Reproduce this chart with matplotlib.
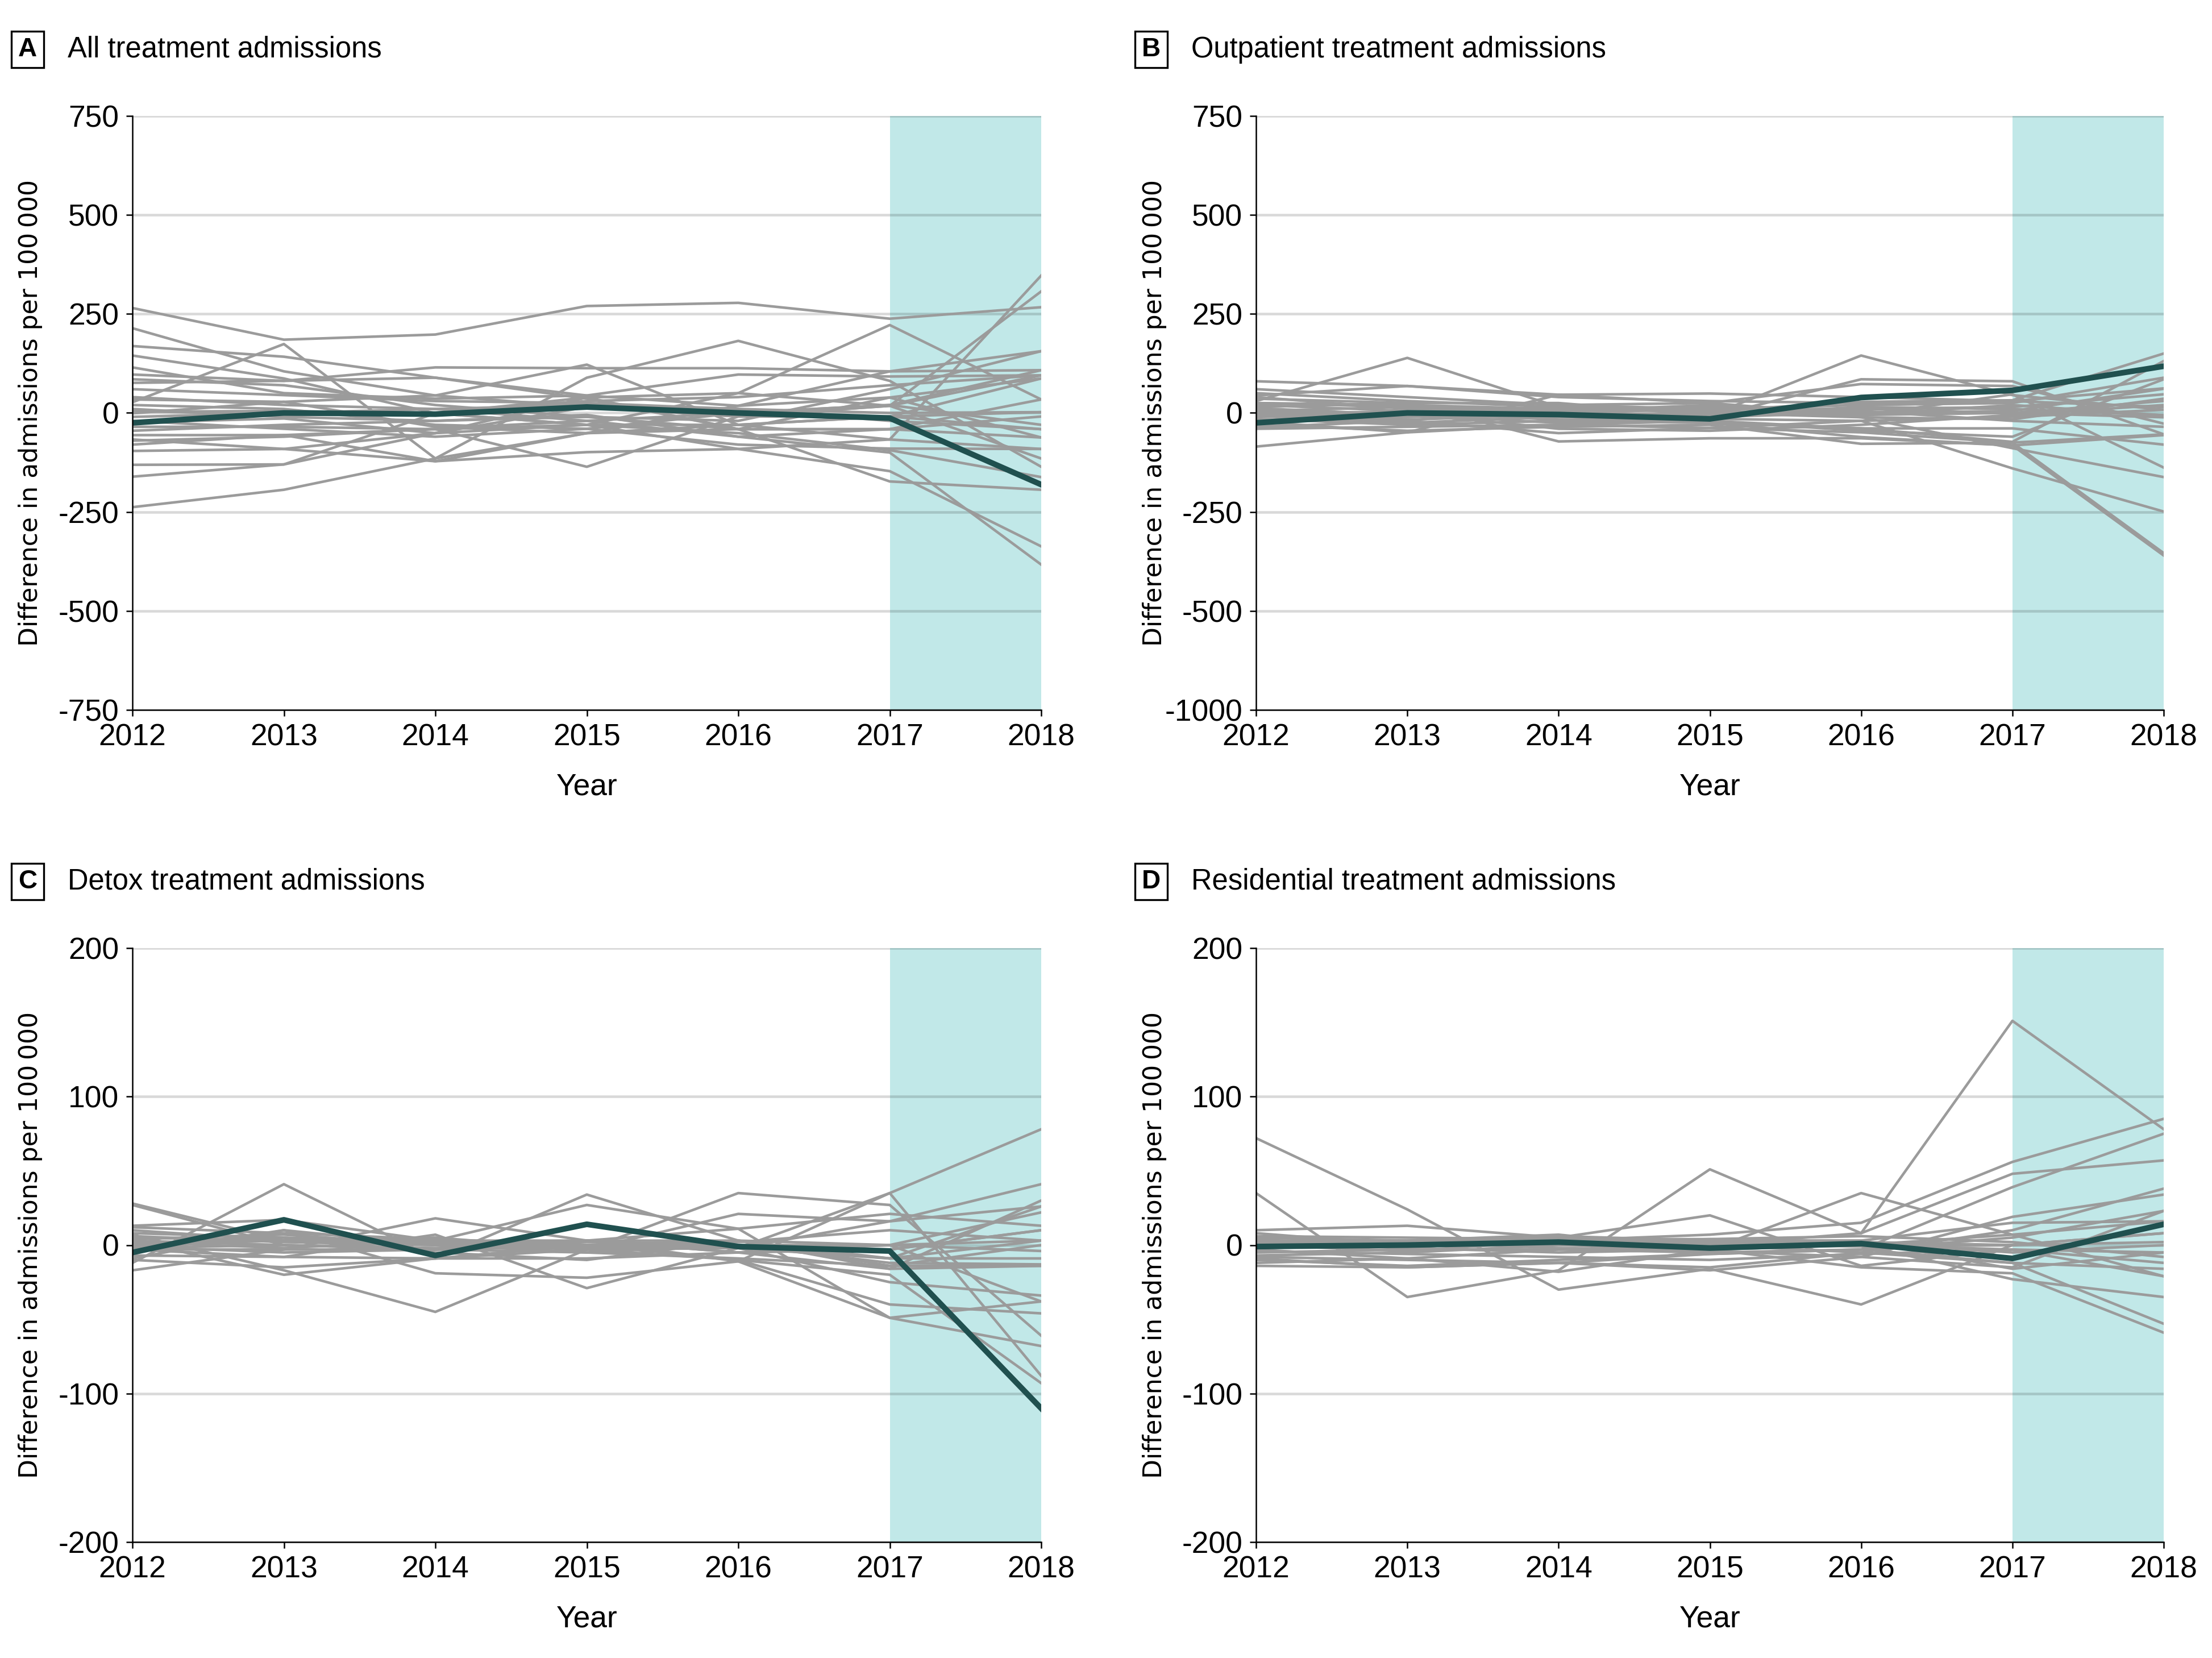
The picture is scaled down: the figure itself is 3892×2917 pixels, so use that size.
import matplotlib
matplotlib.use("Agg")
import matplotlib.pyplot as plt
from matplotlib.patches import Rectangle

plt.rcParams['axes.unicode_minus'] = False

years = [2012, 2013, 2014, 2015, 2016, 2017, 2018]

# ---------------- Panel A: All treatment admissions ----------------
a_treated = [-25, 0, -3, 15, 0, -13, -181]
a_placebo = [
    [265, 185, 198, 270, 278, 238, 267],
    [214, 105, 44, 15, -9, 18, 95],
    [169, 142, 89, 36, -41, 39, 87],
    [145, 87, -1, -30, -91, -67, 347],
    [115, 50, 36, 44, 18, 105, 156],
    [97, 81, 115, 113, 113, 105, 108],
    [76, 81, 89, 44, 97, 92, 95],
    [34, 28, 44, 122, -30, -9, -41],
    [27, 174, -115, 89, 182, 81, -136],
    [3, 5, -1, 39, 50, 222, 34],
    [-1, 28, -35, -51, 18, 39, -62],
    [-24, -14, -51, 15, -9, -9, 2],
    [-35, -35, -41, -30, -51, -94, -162],
    [-56, -56, -122, -99, -91, -147, -337],
    [-67, -91, -122, -51, -41, -173, -194],
    [-80, -56, -41, -136, -9, 18, 307],
    [-96, -91, -51, -30, 50, 18, -115],
    [-131, -130, -51, 39, -41, -41, 34],
    [-161, -130, -1, -30, -30, -67, -91],
    [-238, -194, -115, -51, -30, -9, 87],
    [40, 20, 10, -20, -60, -100, -383],
    [10, -10, -20, -10, -41, -41, -9],
    [60, 45, 30, 25, 10, 0, 2],
    [-10, 0, 10, 20, 10, -20, -41],
    [20, 10, -30, -40, 0, 20, 108],
    [-45, -30, -20, -5, -60, -41, -62],
    [85, 70, 20, -10, -20, 60, 156],
    [-20, -40, -60, -40, -80, -90, -91],
    [5, -5, 0, 30, 40, 70, 95],
    [-70, -60, -40, -20, 0, 20, -30],
]

# ---------------- Panel B: Outpatient treatment admissions ----------------
b_treated = [-25, 0, -4, -15, 39, 57, 118]
b_placebo = [
    [30, 139, 15, 5, -5, 20, -6],
    [80, 68, 40, 30, 25, 30, 62],
    [44, 68, 46, 49, 40, 30, 15],
    [-85, -49, -30, -38, -49, -75, -354],
    [36, 25, -72, -64, -64, -82, -360],
    [15, 25, 25, -6, 145, 45, 8],
    [-6, -17, -4, -10, 85, 80, -54],
    [-22, -49, 46, 25, 73, 68, -27],
    [-36, -20, -51, -38, -20, -140, -249],
    [10, -10, 4, 20, -11, -89, -162],
    [25, 20, 10, 5, 28, 32, 150],
    [-10, 0, -17, -20, -39, -73, 131],
    [5, 15, 10, 15, -6, 47, -138],
    [-15, -30, -20, -25, -61, -82, -56],
    [40, 10, 0, 10, 20, 25, 89],
    [20, 5, -10, -25, -39, -39, -80],
    [0, -20, 20, 10, 10, 0, -11],
    [-30, -45, -35, -30, -78, -75, -54],
    [50, 30, 15, 0, 10, 15, 47],
    [-5, 5, -5, 0, -11, -16, 36],
    [12, -5, -25, -15, -20, -10, 8],
    [-18, -10, 0, -5, 15, 10, -6],
    [25, 15, 5, -10, 0, 5, 61],
    [-8, -25, -10, 0, 5, -20, -35],
    [3, 0, -40, -45, -30, -5, 20],
    [60, 40, 20, 25, -5, 0, 30],
    [-40, -35, -30, -20, -45, -60, 85],
]

# ---------------- Panel C: Detox treatment admissions ----------------
c_treated = [-5, 17, -7, 14, -1, -4, -110]
c_placebo = [
    [28, 3, 3, 3, 3, 0, 3],
    [27, 0, -3, 0, 0, -3, 10],
    [-12, 41, -9, -3, -2, -9, 26],
    [-17, -3, 18, 3, -11, 35, -88],
    [3, -20, -9, 34, 3, -16, 30],
    [7, -17, -45, -3, 35, 27, -61],
    [13, 17, 3, 27, 11, -49, -68],
    [-9, 10, -19, -22, -11, -49, -38],
    [-3, -8, 7, -29, -2, 35, 78],
    [0, 3, 0, -3, 21, 16, 41],
    [3, 0, -3, 3, 11, 21, 13],
    [-3, -3, -3, 0, -2, -25, -34],
    [5, 3, 5, -3, -10, -40, -46],
    [-5, 10, 0, 3, -2, 0, 22],
    [8, 5, 2, 0, 0, -9, 3],
    [0, 5, -5, -10, 3, -14, -14],
    [-7, -8, -9, -9, -5, 0, -4],
    [10, 3, 0, 3, -5, -16, -14],
    [2, -2, 3, -2, -2, 16, 26],
    [-10, -15, -9, 0, 3, -9, -9],
    [4, 7, 0, -5, 0, 0, -38],
    [-2, 0, -2, 2, 0, -12, -13],
    [1, 3, 1, 3, -5, -3, 10],
    [-1, -5, -3, -5, -9, -14, 0],
    [6, 2, 0, -1, 2, 10, 3],
    [12, 8, 4, 0, -10, -20, -93],
]

# ---------------- Panel D: Residential treatment admissions ----------------
d_treated = [-1, 0, 2, -2, 1, -9, 14]
d_placebo = [
    [72, 24, -30, -16, -40, 0, 8],
    [35, -35, -17, 51, 8, 151, 78],
    [10, 13, 5, 20, -14, -3, -5],
    [5, 3, 7, -3, 35, 7, -21],
    [0, -4, 3, 7, 15, 56, 85],
    [-3, -9, -3, 0, 8, 48, 57],
    [-9, -15, -12, -6, -3, 39, 75],
    [-14, -15, -12, -17, -8, 19, 34],
    [3, 3, 5, 3, 3, 15, 16],
    [-5, -3, -3, -5, -3, -12, -53],
    [-12, -9, -18, -3, -15, -19, -59],
    [8, 0, 0, -3, 0, -23, -35],
    [-10, -14, -10, -6, -3, 5, 23],
    [2, 1, 2, 0, -5, -12, -16],
    [-7, -5, 0, 2, 2, 0, 8],
    [4, -2, -5, -3, 0, -3, -12],
    [-2, 2, 4, 4, 2, -5, 0],
    [0, 0, 3, 1, -1, 0, 2],
    [6, 5, 4, 2, 0, 7, 16],
    [-4, -6, -8, -10, -6, -3, -21],
    [1, -2, 6, 3, 3, -16, -5],
    [-8, -10, -12, -15, -5, 10, 38],
    [3, 2, -2, -4, -8, -15, 23],
    [0, 3, 2, 4, 6, 2, -8],
]

letters = ["A", "B", "C", "D"]
titles = ["All treatment admissions", "Outpatient treatment admissions",
          "Detox treatment admissions", "Residential treatment admissions"]
yticks_list = [
    [-750, -500, -250, 0, 250, 500, 750],
    [-750, -500, -250, 0, 250, 500, 750],
    [-200, -100, 0, 100, 200],
    [-200, -100, 0, 100, 200],
]
ytick_labels_list = [
    ["-750", "-500", "-250", "0", "250", "500", "750"],
    ["-1000", "-500", "-250", "0", "250", "500", "750"],
    ["-200", "-100", "0", "100", "200"],
    ["-200", "-100", "0", "100", "200"],
]
ylims = [(-750, 750), (-750, 750), (-200, 200), (-200, 200)]
treated_all = [a_treated, b_treated, c_treated, d_treated]
placebo_all = [a_placebo, b_placebo, c_placebo, d_placebo]

W, H = 3892, 2917
DPI = 300
fig = plt.figure(figsize=(W / DPI, H / DPI), dpi=DPI)

cond_font = ["Liberation Sans", "DejaVu Sans"]
label_font = ["DejaVu Sans"]

GRAY = "#9b9b9b"
TEAL_DARK = "#20504f"
SHADE = "#c1e8e8"

# axes pixel boxes: (left, top, right, bottom)
boxes = [
    (233, 204, 1832, 1249),
    (2210, 204, 3807, 1249),
    (233, 1668, 1832, 2713),
    (2210, 1668, 3807, 2713),
]

for i in range(4):
    l, t, r, b = boxes[i]
    ax = fig.add_axes([l / W, 1 - b / H, (r - l) / W, (b - t) / H])
    ax.axvspan(2017, 2018, color=SHADE, lw=0, zorder=0.3)
    for series in placebo_all[i]:
        ax.plot(years, series, color=GRAY, lw=1.1, zorder=2)
    ax.plot(years, treated_all[i], color=TEAL_DARK, lw=2.4, zorder=3)

    ax.set_xlim(2012, 2018)
    ax.set_ylim(*ylims[i])
    ax.set_xticks(years)
    ax.set_xticklabels([str(y) for y in years], fontfamily=cond_font, fontsize=12.8)
    ax.set_yticks(yticks_list[i])
    ax.set_yticklabels(ytick_labels_list[i], fontfamily=cond_font, fontsize=12.8)
    ax.set_axisbelow(True)
    ax.grid(axis="y", color="black", alpha=0.15, lw=1.1)
    ax.grid(axis="x", visible=False)
    for s in ["top", "right"]:
        ax.spines[s].set_visible(False)
    for s in ["left", "bottom"]:
        ax.spines[s].set_linewidth(0.6)
        ax.spines[s].set_zorder(4)
    ax.tick_params(direction="out", length=2.7, width=0.6, pad=3, colors="black")

    ax.set_xlabel("Year", fontfamily=cond_font, fontsize=12.8)
    ax.xaxis.set_label_coords(0.5, -0.106)
    ax.set_ylabel("Difference in admissions per 100\u2009000", fontfamily=label_font,
                  fontsize=10.6, va="center")
    ax.yaxis.set_label_coords(-0.112, 0.5)

    # panel letter box and title
    bx0, bx1 = l - 213, l - 156
    by0, by1 = t - 149, t - 85
    fig.add_artist(Rectangle((bx0 / W, 1 - by1 / H), (bx1 - bx0) / W, (by1 - by0) / H,
                             transform=fig.transFigure, fill=False, lw=0.8,
                             edgecolor="black"))
    fig.text(((bx0 + bx1) / 2) / W, 1 - ((by0 + by1) / 2) / H, letters[i],
             ha="center", va="center", fontsize=11, fontweight="bold",
             fontfamily=cond_font)
    fig.text((l - 114) / W, 1 - ((by0 + by1) / 2) / H, titles[i],
             ha="left", va="center", fontsize=12.2, fontfamily=cond_font)

fig.savefig("out.png", dpi=DPI)
